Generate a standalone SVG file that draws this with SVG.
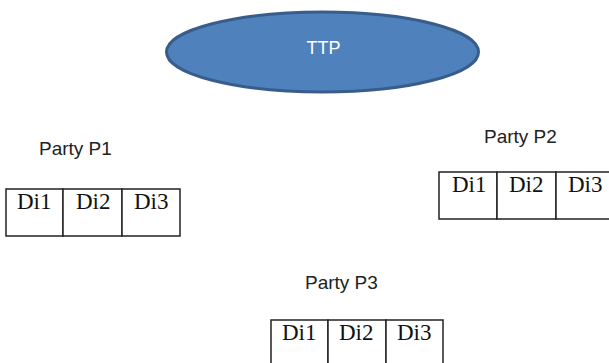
<svg xmlns="http://www.w3.org/2000/svg" width="609" height="363" viewBox="0 0 609 363">
<style>
.cell{fill:#fff;stroke:#222;stroke-width:1.5}
.di{font-family:"Liberation Serif",serif;font-size:23px;fill:#111}
.lbl{font-family:"Liberation Sans",sans-serif;font-size:19px;fill:#222}
</style>
<rect width="609" height="363" fill="#fff"/>
<g id="ttp">
<ellipse cx="322.5" cy="52" rx="156" ry="40" fill="#4F81BD" stroke="#385D8A" stroke-width="3"/>
<text x="323.5" y="54" text-anchor="middle" font-family="Liberation Sans, sans-serif" font-size="18" fill="#fff">TTP</text>
</g>
<g id="p1">
<text class="lbl" x="39" y="155">Party P1</text>
<rect class="cell" x="6" y="189" width="57" height="47"/>
<rect class="cell" x="63" y="189" width="59" height="47"/>
<rect class="cell" x="122" y="189" width="58" height="47"/>
<text class="di" x="17" y="209">Di1</text>
<text class="di" x="76" y="209">Di2</text>
<text class="di" x="134" y="209">Di3</text>
</g>
<g id="p2">
<text class="lbl" x="484" y="143">Party P2</text>
<rect class="cell" x="439" y="172" width="58" height="47"/>
<rect class="cell" x="497" y="172" width="59" height="47"/>
<rect class="cell" x="556" y="172" width="60" height="47"/>
<text class="di" x="452" y="192">Di1</text>
<text class="di" x="509" y="192">Di2</text>
<text class="di" x="568" y="192">Di3</text>
</g>
<g id="p3">
<text class="lbl" x="305" y="289">Party P3</text>
<rect class="cell" x="271" y="320" width="57" height="50"/>
<rect class="cell" x="328" y="320" width="58" height="50"/>
<rect class="cell" x="386" y="320" width="57" height="50"/>
<text class="di" x="282" y="340">Di1</text>
<text class="di" x="339" y="340">Di2</text>
<text class="di" x="397" y="340">Di3</text>
</g>
<g id="connectors"></g>
</svg>
